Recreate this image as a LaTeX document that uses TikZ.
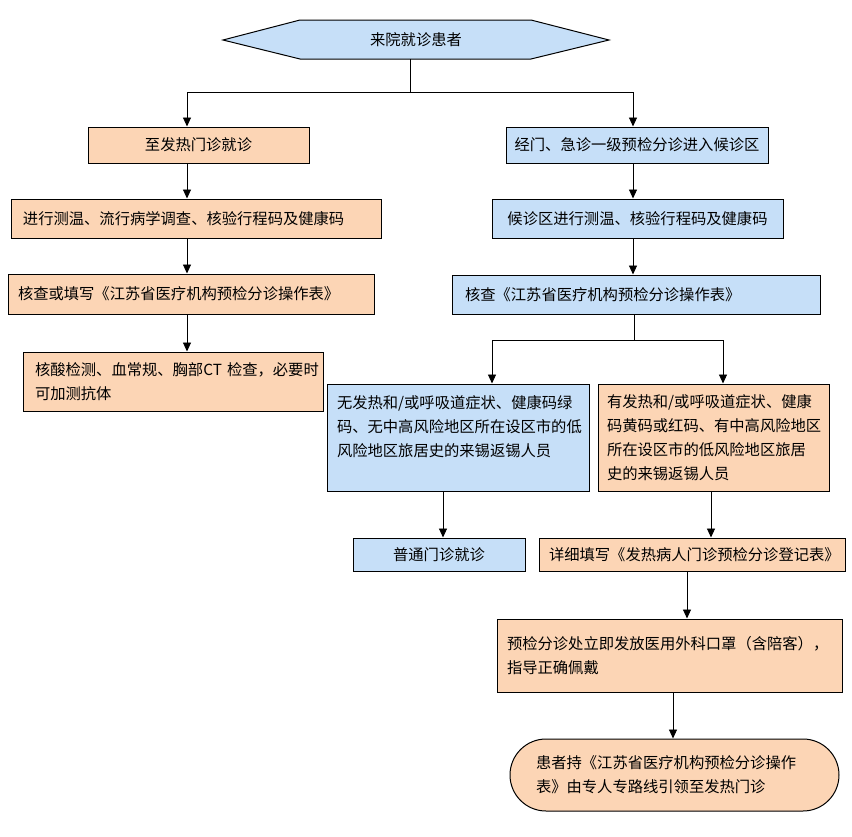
\documentclass[tikz,border=0pt]{standalone}
\usepackage{fontspec}
\setmainfont{Noto Sans CJK SC}
\usetikzlibrary{arrows.meta}
\definecolor{orangefill}{RGB}{252,213,181}
\definecolor{bluefill}{RGB}{198,223,248}
\begin{document}
\begin{tikzpicture}[x=1pt,y=-1pt,
  box/.style={draw=black,line width=1pt,rectangle,inner ysep=0pt,font=\fontsize{15.3}{24}\selectfont},
  obox/.style={box,fill=orangefill},
  bbox/.style={box,fill=bluefill},
  arr/.style={draw=black,line width=0.9pt,-{Triangle[length=9pt,width=8pt]}},
  ln/.style={draw=black,line width=0.9pt}]
\useasboundingbox[fill=white] (0,0) rectangle (852,836);

% start hexagon
\fill[bluefill] (223,40) -- (300,20) -- (531,20) -- (609,40) -- (531,59) -- (300,59) -- cycle;
\draw[line width=1pt] (223,40) -- (300,20) -- (531,20) -- (609,40) -- (531,59) -- (300,59) -- cycle;
\node[font=\fontsize{15.3}{24}\selectfont, minimum width=386, minimum height=39, inner sep=0pt] (start) at (416,39.5) {来院就诊患者};

% left column
\node[obox, minimum width=221, minimum height=36, align=center] (b1) at (198.5,145) {至发热门诊就诊};
\node[obox, minimum width=370, minimum height=39, inner xsep=12pt, text width=346pt, align=left] (b2) at (196,218.5) {进行测温、流行病学调查、核验行程码及健康码};
\node[obox, minimum width=366, minimum height=40, inner xsep=10pt, text width=346pt, align=left] (b3) at (191,294) {核查或填写《江苏省医疗机构预检分诊操作表》};
\node[obox, minimum width=300, minimum height=59, inner xsep=12pt, text width=276pt, align=left] (b4) at (173,381.5) {\mbox{核酸检测、血常规、胸部CT~检查，必要时}\\可加测抗体};

% right column
\node[bbox, minimum width=262, minimum height=36, align=center] (r1) at (637,145) {经门、急诊一级预检分诊进入候诊区};
\node[bbox, minimum width=291, minimum height=39, align=center] (r2) at (637.5,218.5) {候诊区进行测温、核验行程码及健康码};
\node[bbox, minimum width=368, minimum height=39, inner xsep=13pt, text width=342pt, align=left] (r3) at (636,294.5) {核查《江苏省医疗机构预检分诊操作表》};

\node[bbox, minimum width=262, minimum height=107, inner xsep=10pt, text width=242pt, align=left] (b5) at (458,437.5) {无发热和/或呼吸道症状、健康码绿\\码、无中高风险地区所在设区市的低\\风险地区旅居史的来锡返锡人员\\\mbox{}};
\node[obox, minimum width=231, minimum height=107, inner xsep=9pt, text width=213pt, align=left] (b6) at (713.5,437.5) {有发热和/或呼吸道症状、健康\\码黄码或红码、有中高风险地区\\所在设区市的低风险地区旅居\\史的来锡返锡人员};

\node[bbox, minimum width=172, minimum height=33, align=center] (b7) at (439,554.5) {普通门诊就诊};
\node[obox, minimum width=306, minimum height=33, inner xsep=10pt, text width=286pt, align=left] (b8) at (692,554.5) {详细填写《发热病人门诊预检分诊登记表》};
\node[obox, minimum width=345, minimum height=73, inner xsep=10pt, text width=325pt, align=left] (b9) at (669.5,655.5) {预检分诊处立即发放医用外科口罩（含陪客），\\指导正确佩戴};
\node[obox, rounded corners=36pt, minimum width=329, minimum height=72, inner xsep=26pt, text width=277pt, align=left] (st) at (674.5,775) {患者持《江苏省医疗机构预检分诊操作\\表》由专人专路线引领至发热门诊};

% junction coordinates
\coordinate (j0) at (410,92);
\coordinate (jl) at (187,92);
\coordinate (jr) at (633,92);
\coordinate (lx) at (187,0);
\coordinate (rx) at (633,0);
\coordinate (k) at (634,340);
\coordinate (kl) at (492,340);
\coordinate (kr) at (723,340);
\coordinate (x5) at (443,0);
\coordinate (x6) at (711,0);
\coordinate (x8) at (687,0);
\coordinate (x9) at (673,0);

% connectors
\draw[ln] ([xshift=-6pt]start.south) -- (j0);
\draw[ln] (jl) -- (jr);
\draw[arr] (jl) -- (b1.north -| jl);
\draw[arr] (jr) -- (r1.north -| jr);
\draw[arr] (b1.south -| lx) -- (b2.north -| lx);
\draw[arr] (b2.south -| lx) -- (b3.north -| lx);
\draw[arr] (b3.south -| lx) -- (b4.north -| lx);
\draw[arr] (r1.south -| rx) -- (r2.north -| rx);
\draw[arr] (r2.south -| rx) -- (r3.north -| rx);
\draw[ln] (r3.south -| k) -- (k);
\draw[ln] (kl) -- (kr);
\draw[arr] (kl) -- (b5.north -| kl);
\draw[arr] (kr) -- (b6.north -| kr);
\draw[arr] (b5.south -| x5) -- (b7.north -| x5);
\draw[arr] (b6.south -| x6) -- (b8.north -| x6);
\draw[arr] (b8.south -| x8) -- (b9.north -| x8);
\draw[arr] (b9.south -| x9) -- (st.north -| x9);
\end{tikzpicture}
\end{document}
